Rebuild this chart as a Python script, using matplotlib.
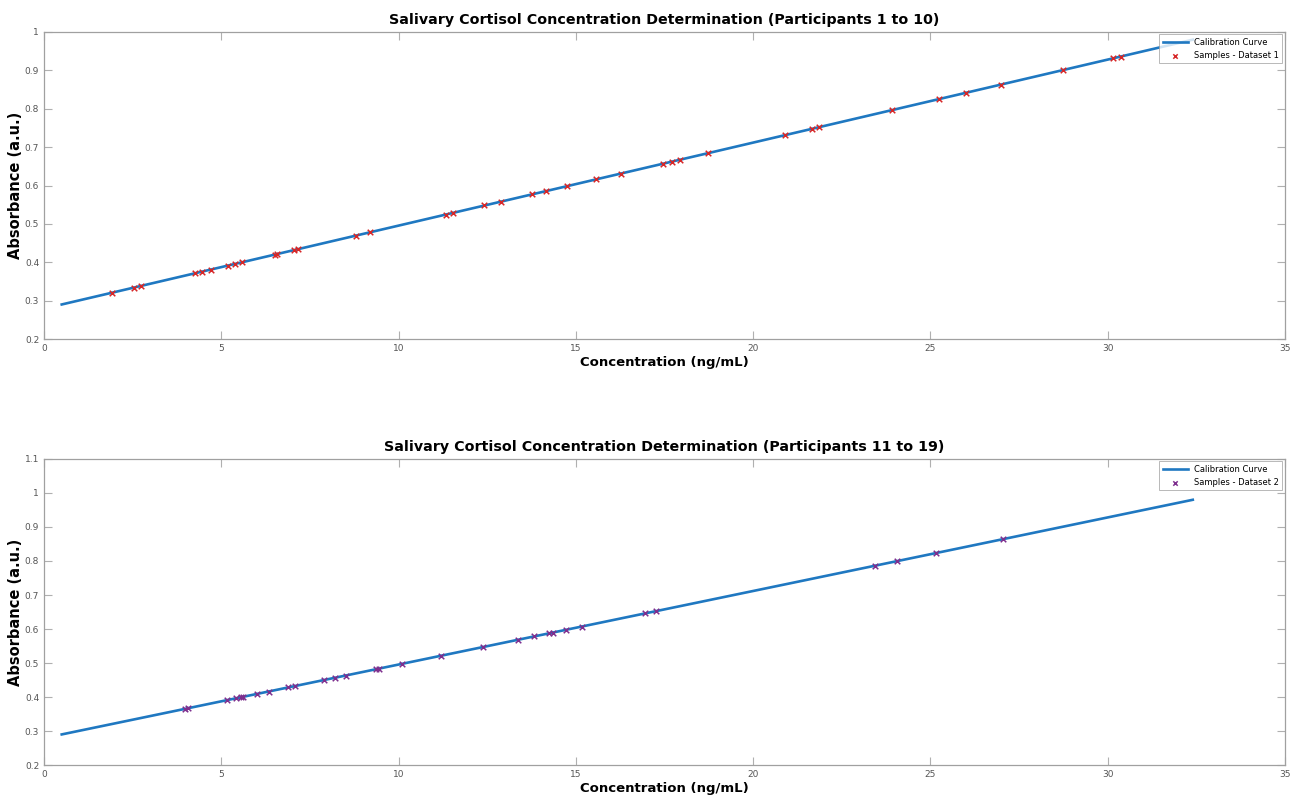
import numpy as np
from matplotlib import pyplot as plt
from matplotlib.ticker import FormatStrFormatter

# calibration line end points
calib_x = [0.5, 32.4]
calib_y = [0.29, 0.98]

# dataset 1 (participants 1 to 10)
conc1 = [1.91, 2.55, 2.74, 4.26, 4.46, 4.70, 5.18, 5.39, 5.59, 6.51, 6.57, 7.05, 7.15,
         8.80, 9.19, 11.33, 11.54, 12.42, 12.89, 13.77, 14.15, 14.76, 15.58, 16.27,
         17.46, 17.72, 17.94, 18.73, 20.91, 21.65, 21.86, 23.93, 25.23, 26.00, 27.00,
         28.74, 30.14, 30.37]
abs1 = [0.320, 0.334, 0.338, 0.371, 0.375, 0.381, 0.391, 0.396, 0.400, 0.420, 0.421,
        0.431, 0.434, 0.469, 0.478, 0.524, 0.529, 0.548, 0.558, 0.577, 0.585, 0.598,
        0.616, 0.631, 0.657, 0.662, 0.667, 0.684, 0.731, 0.747, 0.752, 0.797, 0.825,
        0.841, 0.863, 0.901, 0.931, 0.936]

# dataset 2 (participants 11 to 19)
conc2 = [3.98, 4.05, 5.17, 5.41, 5.55, 5.62, 6.02, 6.35, 6.87, 7.08, 7.90, 8.21, 8.52,
         9.35, 9.45, 10.10, 11.20, 12.38, 13.37, 13.82, 14.25, 14.35, 14.72, 15.17,
         16.95, 17.26, 23.43, 24.07, 25.17, 27.04]
abs2 = [0.365, 0.367, 0.391, 0.396, 0.399, 0.401, 0.409, 0.416, 0.428, 0.432, 0.450,
        0.457, 0.463, 0.481, 0.483, 0.497, 0.521, 0.547, 0.568, 0.578, 0.587, 0.589,
        0.597, 0.607, 0.646, 0.652, 0.786, 0.800, 0.823, 0.864]

fig = plt.figure(figsize=(12.9, 7.96), dpi=100)
ax1 = fig.add_axes([0.0341, 0.5741, 0.962, 0.3857])
ax2 = fig.add_axes([0.0341, 0.0389, 0.962, 0.3845])

def draw(ax, x, y, ymax, title, label, color):
    ax.plot(calib_x, calib_y, color='#1f78c1', lw=1.9, label='Calibration Curve')
    ax.scatter(x, y, marker='x', color=color, s=16, lw=1.1, label=label, zorder=3)
    ax.set_xlim(0, 35)
    ax.set_ylim(0.2, ymax)
    ax.set_xticks(np.arange(0, 36, 5))
    ax.set_yticks(np.arange(0.2, ymax + 0.01, 0.1))
    ax.yaxis.set_major_formatter(FormatStrFormatter('%g'))
    ax.tick_params(direction='in', length=6, width=0.8, colors='#b0b0b0',
                   labelcolor='#555555', labelsize=6.5, top=True, right=True)
    for sp in ax.spines.values():
        sp.set_color('#a0a0a0')
        sp.set_linewidth(0.9)
    ax.set_title(title, fontsize=10.3, fontweight='bold', pad=6)
    ax.set_xlabel('Concentration (ng/mL)', fontsize=9.5, fontweight='bold', labelpad=2)
    ax.set_ylabel('Absorbance (a.u.)', fontsize=10.5, fontweight='bold', labelpad=1)
    leg = ax.legend(loc='upper right', fontsize=6, frameon=True, fancybox=False,
                    borderaxespad=0.3, handlelength=3, markerscale=0.8)
    leg.get_frame().set_edgecolor('#999999')
    leg.get_frame().set_linewidth(0.6)

draw(ax1, conc1, abs1, 1.0,
     'Salivary Cortisol Concentration Determination (Participants 1 to 10)',
     'Samples - Dataset 1', '#d62728')
draw(ax2, conc2, abs2, 1.1,
     'Salivary Cortisol Concentration Determination (Participants 11 to 19)',
     'Samples - Dataset 2', '#7E2F8E')

fig.savefig('out.png', dpi=100)
